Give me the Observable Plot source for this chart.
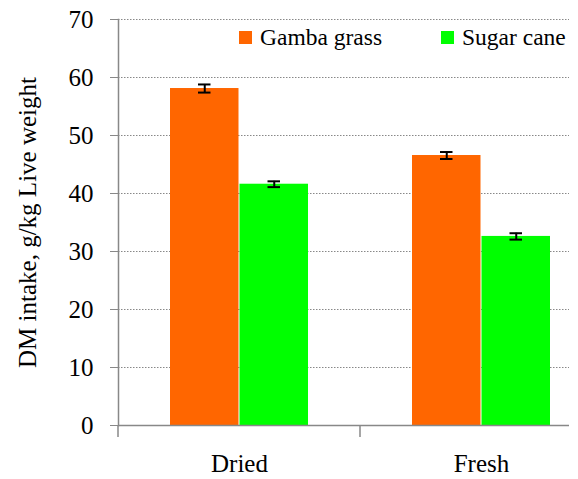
<!DOCTYPE html>
<html><head><meta charset="utf-8">
<script src="https://cdn.jsdelivr.net/npm/d3@7"></script>
<script src="https://cdn.jsdelivr.net/npm/@observablehq/plot@0.6"></script>
<style>
html,body{margin:0;padding:0;background:#fff;}
#wrap{position:relative;width:578px;height:479px;}
#wrap, #wrap *, #wrap svg text { font-family: "Liberation Serif", "Times New Roman", serif !important; }
#legend{position:absolute;left:239px;top:23px;display:flex;align-items:center;font-size:23.5px;line-height:28px;color:#000;}
#legend .item{display:flex;align-items:center;}
#legend .sw{width:13px;height:13px;margin-right:8px;}
</style></head>
<body><div id="wrap"><div id="legend"></div></div>
<script>
const categories = ["Dried", "Fresh"];
const seriesNames = ["Gamba grass", "Sugar cane"];
const gambaValues = [58.1, 46.55];
const sugarValues = [41.6, 32.6];
const gambaErr = [0.7, 0.6];
const sugarErr = [0.5, 0.55];
const colors = ["#FF6600", "#00FF00"];
const yTicks = [0, 10, 20, 30, 40, 50, 60, 70];

const data = [];
categories.forEach((c, i) => {
  data.push({cat: c, series: seriesNames[0], side: 0, value: gambaValues[i], err: gambaErr[i]});
  data.push({cat: c, series: seriesNames[1], side: 1, value: sugarValues[i], err: sugarErr[i]});
});

const serif = "Liberation Serif, Times New Roman, serif";
const half = 69.5;    // half of the category band width (bar width)
const capInset = 28;  // error-bar cap inset inside a bar
const gamba = data.filter(d => d.side === 0);
const sugar = data.filter(d => d.side === 1);

function errMarks(rows, dx, insL, insR) {
  return [
    Plot.ruleX(rows, {x: "cat", y1: d => d.value - d.err, y2: d => d.value + d.err, dx, stroke: "#000", strokeWidth: 2}),
    Plot.tickY(rows, {x: "cat", y: d => d.value - d.err, stroke: "#000", strokeWidth: 2, insetLeft: insL, insetRight: insR}),
    Plot.tickY(rows, {x: "cat", y: d => d.value + d.err, stroke: "#000", strokeWidth: 2, insetLeft: insL, insetRight: insR})
  ];
}

const chart = Plot.plot({
  width: 578,
  height: 479,
  marginTop: 19,
  marginBottom: 54,
  marginLeft: 118,
  marginRight: 9,
  style: {fontFamily: serif, background: "#fff"},
  x: {domain: categories, range: [118, 603], paddingInner: 0.428, paddingOuter: 0.212, axis: null},
  y: {domain: [0, 70], ticks: yTicks, axis: null},
  color: {domain: seriesNames, range: colors},
  marks: [
    Plot.gridY(yTicks.filter(d => d > 0), {stroke: "#888", strokeOpacity: 1, strokeDasharray: "1.5,1.5", strokeWidth: 1}),
    Plot.barY(gamba, {x: "cat", y: "value", fill: "series", insetRight: half}),
    Plot.barY(sugar, {x: "cat", y: "value", fill: "series", insetLeft: half}),
    ...errMarks(gamba, -half / 2, capInset, half + capInset),
    ...errMarks(sugar, half / 2, half + capInset, capInset),
    Plot.ruleY([0], {stroke: "#888", strokeWidth: 1.5}),
    Plot.frame({anchor: "left", stroke: "#888", strokeWidth: 1.5}),
    Plot.ruleX(categories, {x: d => d, y1: 0, y2: 0, insetBottom: -12, dx: -121.5, stroke: "#888", strokeWidth: 1.5}),
    Plot.axisY({ticks: yTicks, tickSize: 8, tickPadding: 17, fontSize: 25, fontFamily: serif, stroke: "#888",
      label: "DM intake, g/kg Live weight", labelAnchor: "center", labelArrow: "none", labelOffset: 100}),
    Plot.axisX({anchor: "bottom", tickSize: 0, tickPadding: 29, fontSize: 25, fontFamily: serif, label: null})
  ]
});
document.getElementById("wrap").appendChild(chart);

const legend = document.getElementById("legend");
seriesNames.forEach((s, i) => {
  const it = document.createElement("div");
  it.className = "item";
  const sw = document.createElement("div");
  sw.className = "sw";
  sw.style.background = colors[i];
  const tx = document.createElement("span");
  tx.textContent = s;
  it.appendChild(sw); it.appendChild(tx);
  if (i === 0) { it.style.width = "202px"; }
  legend.appendChild(it);
});
</script></body></html>
